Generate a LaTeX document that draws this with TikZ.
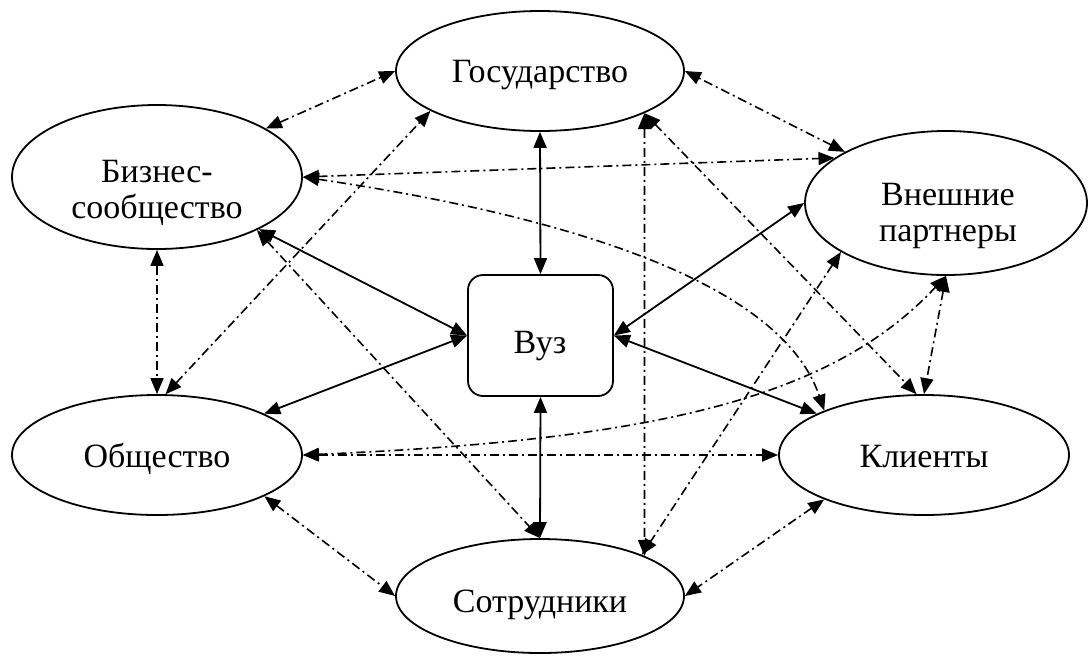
\documentclass[tikz,border=0pt]{standalone}
\usepackage{fontspec}
\setmainfont{Liberation Serif}
\usetikzlibrary{shapes.geometric,arrows.meta}
\tikzset{
  ell/.style={draw, ellipse, line width=1.8pt, inner sep=0pt},
  vuzbox/.style={draw, rectangle, rounded corners=15pt, line width=1.8pt, inner sep=0pt, minimum width=145pt, minimum height=121pt},
  lbl/.style={font=\fontsize{34}{38}\selectfont, inner sep=0pt, anchor=base},
  solidlink/.style={line width=1.8pt, {Triangle[length=16pt,width=13pt]}-{Triangle[length=16pt,width=13pt]}},
  dotlink/.style={line width=1.6pt, dash pattern=on 9pt off 4pt on 2pt off 4pt, {Triangle[length=16pt,width=13pt]}-{Triangle[length=16pt,width=13pt]}}
}
\begin{document}
\begin{tikzpicture}[x=1pt,y=-1pt]
\useasboundingbox (0,0) rectangle (1089,657);
% nodes
\node[ell, minimum width=288pt, minimum height=120pt] (gos) at (540,71) {};
\node[ell, minimum width=290pt, minimum height=144pt] (biz) at (157,177) {};
\node[ell, minimum width=282pt, minimum height=144pt] (vnesh) at (946,203) {};
\node[ell, minimum width=290pt, minimum height=120pt] (obs) at (157,455) {};
\node[ell, minimum width=290pt, minimum height=120pt] (klient) at (924,455) {};
\node[ell, minimum width=288pt, minimum height=114pt] (sotr) at (540,596) {};
\node[vuzbox] (vuz) at (540.5,335.5) {};
% labels
\node[lbl] (gos-t) at (540,82) {Государство};
\node[lbl] (biz-t1) at (157,182) {Бизнес-};
\node[lbl] (biz-t2) at (157,218) {сообщество};
\node[lbl] (vnesh-t1) at (948,205) {Внешние};
\node[lbl] (vnesh-t2) at (948,241) {партнеры};
\node[lbl] (vuz-t) at (540,353) {Вуз};
\node[lbl] (obs-t) at (157,467) {Общество};
\node[lbl] (klient-t) at (924,467) {Клиенты};
\node[lbl] (sotr-t) at (540,612) {Сотрудники};
% solid links
\draw[solidlink] (gos.south) -- (vuz.north);
\draw[solidlink] (vuz.south) -- (sotr.north);
\draw[solidlink] (biz) -- (vuz.west);
\draw[solidlink] (obs) -- (vuz.west);
\draw[solidlink] (vnesh.west) -- (vuz.east);
\draw[solidlink] (klient) -- (vuz.east);
% dash-dot links
\draw[dotlink] (biz) -- (gos.west);
\draw[dotlink] (vnesh) -- (gos.east);
\draw[dotlink] (biz.south) -- (obs.north);
\draw[dotlink] (obs.-21) -- (sotr.west);
\draw[dotlink] (klient.-156) -- (sotr.east);
\draw[dotlink] (vnesh.south) -- (klient.north);
\draw[dotlink] (obs.east) -- (klient.west);
\draw[dotlink] (biz.east) -- (vnesh.158);
\draw[dotlink] (biz.east) .. controls (560,215) and (780,280) .. (klient.156);
\draw[dotlink] (obs.east) .. controls (650,440) and (830,400) .. (vnesh.south);
\draw[dotlink] (obs.82) -- (gos.-160);
\draw[dotlink] (biz.-28) -- (sotr.north);
\draw[dotlink] (gos.-22.4) -- (sotr.21.4);
\draw[dotlink] (gos.-22) -- (klient.97);
\draw[dotlink] (vnesh.-155) -- (sotr.22);
\end{tikzpicture}
\end{document}
